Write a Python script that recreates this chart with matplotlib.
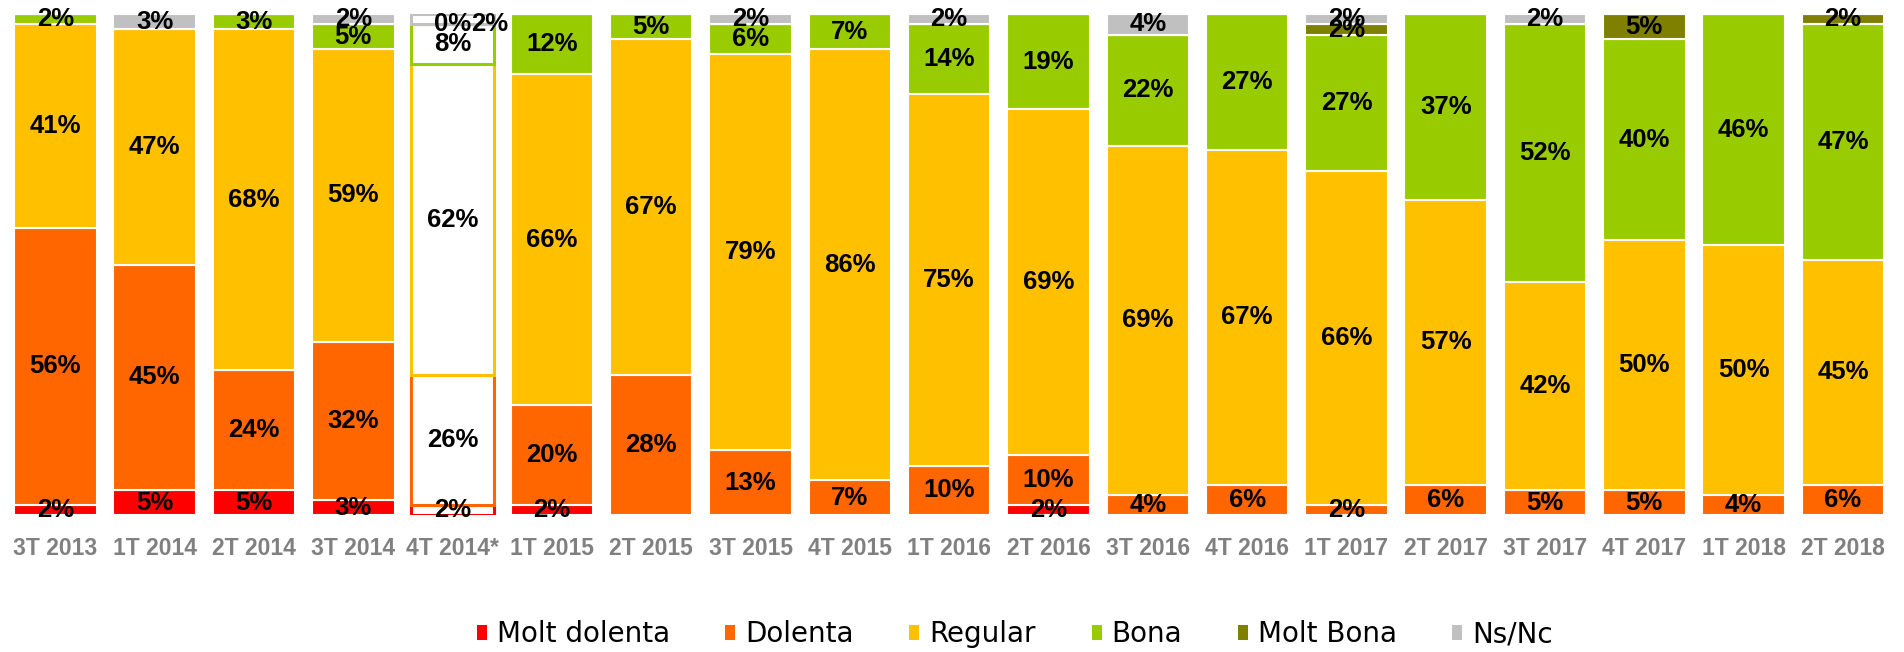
import matplotlib
matplotlib.use("Agg")
import matplotlib.pyplot as plt
import numpy as np

categories = ["3T 2013", "1T 2014", "2T 2014", "3T 2014", "4T 2014*", "1T 2015", "2T 2015",
              "3T 2015", "4T 2015", "1T 2016", "2T 2016", "3T 2016", "4T 2016", "1T 2017",
              "2T 2017", "3T 2017", "4T 2017", "1T 2018", "2T 2018"]
series_names = ["Molt dolenta", "Dolenta", "Regular", "Bona", "Molt Bona", "Ns/Nc"]
molt_dolenta = [2, 5, 5, 3, 2, 2, 0, 0, 0, 0, 2, 0, 0, 0, 0, 0, 0, 0, 0]
dolenta      = [56, 45, 24, 32, 26, 20, 28, 13, 7, 10, 10, 4, 6, 2, 6, 5, 5, 4, 6]
regular      = [41, 47, 68, 59, 62, 66, 67, 79, 86, 75, 69, 69, 67, 66, 57, 42, 50, 50, 45]
bona         = [2, 0, 3, 5, 8, 12, 5, 6, 7, 14, 19, 22, 27, 27, 37, 52, 40, 46, 47]
molt_bona    = [0, 0, 0, 0, 0, 0, 0, 0, 0, 0, 0, 0, 0, 2, 0, 0, 5, 0, 2]
ns_nc        = [0, 3, 0, 2, 2, 0, 0, 2, 0, 2, 0, 4, 0, 2, 0, 2, 0, 0, 0]
colors = ["#FF0000", "#FF6600", "#FFC000", "#99CC00", "#808000", "#C0C0C0"]
hollow_category = "4T 2014*"

label_font = ["Liberation Sans", "DejaVu Sans"]

data = np.array([molt_dolenta, dolenta, regular, bona, molt_bona, ns_nc], dtype=float)
totals = data.sum(axis=0)
norm = data / totals * 100

fig = plt.figure(figsize=(19.04, 6.52), dpi=100)
ax = fig.add_axes([0.003, 0.21, 0.991, 0.768])
x = np.arange(len(categories))
width = 0.83
bottom = np.zeros(len(categories))
hidx = categories.index(hollow_category)
for s, name in enumerate(series_names):
    h = norm[s]
    fc = [colors[s]] * len(categories)
    ec = ["white"] * len(categories)
    fc[hidx] = "white"
    ec[hidx] = colors[s]
    lw = [1.5] * len(categories)
    lw[hidx] = 2.2
    ax.bar(x, h, width, bottom=bottom, color=fc, edgecolor=ec, linewidth=lw, label=name)
    for i in range(len(categories)):
        v = data[s, i]
        show = v > 0 or (i == hidx and name == "Molt Bona")
        if not show:
            continue
        xi = x[i]
        yi = bottom[i] + h[i] / 2
        if i == hidx and name == "Ns/Nc":
            xi += 0.37
            yi = bottom[i]
        ax.text(xi, yi, f"{int(v)}%", ha="center", va="center",
                fontsize=18.5, fontweight="bold", family=label_font, color="black", zorder=5)
    bottom += h

ax.set_xlim(-0.5, len(categories) - 0.5)
ax.set_ylim(0, 100)
for sp in ax.spines.values():
    sp.set_visible(False)
ax.set_yticks([])
ax.set_xticks(x)
ax.set_xticklabels(categories, fontsize=16.5, fontweight="bold", family=label_font, color="#808080")
ax.tick_params(axis="x", length=0, pad=16)

handles = [plt.Rectangle((0, 0), 1, 1, facecolor=c, edgecolor="none") for c in colors]
fig.legend(handles, series_names, loc="center", bbox_to_anchor=(0.533, 0.027), ncol=6,
           frameon=False, handlelength=0.36, handleheight=0.45, handletextpad=0.36,
           columnspacing=2.0, borderpad=0.1, prop={"family": "DejaVu Sans", "size": 20})

fig.savefig("out.png", dpi=100)
